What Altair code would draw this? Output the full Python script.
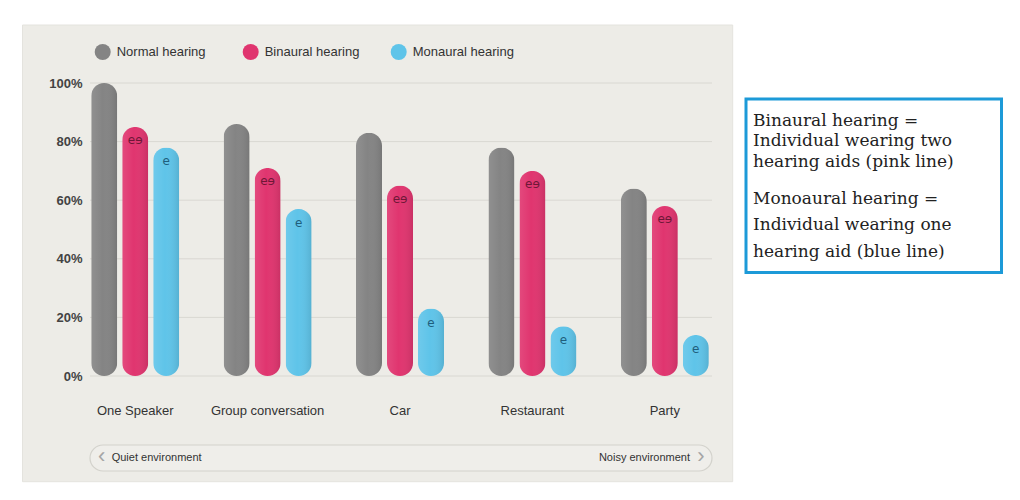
import altair as alt
import pandas as pd

categories = ["One Speaker", "Group conversation", "Car", "Restaurant", "Party"]
series = ["Normal hearing", "Binaural hearing", "Monaural hearing"]
normal = [100, 86, 83, 78, 64]
binaural = [85, 71, 65, 70, 58]
monaural = [78, 57, 23, 17, 14]
colors = ["#848484", "#e0356f", "#5fc4e9"]
icon_colors = ["#6e1737", "#1f5e7c"]
y_ticks = [0, 20, 40, 60, 80, 100]
note_lines = [
    "Binaural hearing =",
    "Individual wearing two",
    "hearing aids (pink line)",
    "Monoaural hearing =",
    "Individual wearing one",
    "hearing aid (blue line)",
]
note_y = [38, 58, 79, 116, 142, 169]

rows = []
for i, c in enumerate(categories):
    for s, vals in zip(series, [normal, binaural, monaural]):
        rows.append({"category": c, "series": s, "value": vals[i]})
df = pd.DataFrame(rows)

one = pd.DataFrame({"k": [0]})
ticks_df = pd.DataFrame({"value": y_ticks})

SANS = "Liberation Sans"
yscale = alt.Scale(domain=[0, 100], nice=False, zero=True)
yaxis = alt.Axis(
    title=None, values=y_ticks, labelExpr="datum.value + '%'", zindex=1,
    grid=False, ticks=False, domain=False, offset=-13, labelPadding=0,
    labelFontSize=13, labelFontWeight="bold", labelFont=SANS, labelColor="#434343",
)
yenc = alt.Y("value:Q", scale=yscale, axis=yaxis)

panel = alt.Chart(one).mark_rect(fill="#edece7", stroke="#e4e3de").encode(
    x=alt.value(-46.5), x2=alt.value(663.7), y=alt.value(-58), y2=alt.value(398.7)
)

grid = alt.Chart(ticks_df).mark_rule(color="#d9d8d2", strokeWidth=1).encode(
    y=yenc,
    x=alt.value(21),
    x2=alt.value(643),
)

xenc = alt.X(
    "category:N",
    sort=categories,
    scale=alt.Scale(paddingInner=0, paddingOuter=0),
    axis=alt.Axis(
        title=None, labelAngle=0, ticks=False, domain=False, zindex=1,
        labelPadding=28, labelFontSize=13, labelFont=SANS, labelColor="#333333",
    ),
)
xoff = alt.XOffset(
    "series:N", sort=series,
    scale=alt.Scale(paddingInner=0.161, paddingOuter=0.716),
)

bars = alt.Chart(df).mark_bar(cornerRadius=13).encode(
    x=xenc, xOffset=xoff, y=yenc,
    color=alt.Color(
        "series:N",
        scale=alt.Scale(domain=series, range=colors),
        legend=alt.Legend(
            title=None, orient="none", legendX=25.7, legendY=-39, direction="horizontal",
            columns=3, gridAlign="all", columnPadding=24, symbolType="circle",
            symbolSize=256, symbolStrokeWidth=0, labelFontSize=13, labelFont=SANS,
            labelColor="#333333", labelOffset=6, padding=0,
        ),
    ),
)

shade = alt.Chart(df).mark_bar(
    cornerRadius=13,
    color=alt.Gradient(
        gradient="linear", x1=0, x2=1, y1=0, y2=0,
        stops=[
            alt.GradientStop(offset=0, color="rgba(255,255,255,0.10)"),
            alt.GradientStop(offset=0.45, color="rgba(255,255,255,0.0)"),
            alt.GradientStop(offset=1, color="rgba(0,0,0,0.10)"),
        ],
    ),
).encode(x=xenc, xOffset=xoff, y=yenc)

icon_b = alt.Chart(df).transform_filter(
    "datum.series == 'Binaural hearing'"
).mark_text(
    text="eɘ", font="DejaVu Sans", fontSize=12, baseline="middle", dy=13, color=icon_colors[0]
).encode(x=xenc, xOffset=xoff, y=yenc)
icon_m = alt.Chart(df).transform_filter(
    "datum.series == 'Monaural hearing'"
).mark_text(
    text="e", font="DejaVu Sans", fontSize=12, baseline="middle", dy=14, color=icon_colors[1]
).encode(x=xenc, xOffset=xoff, y=yenc)

pill = alt.Chart(one).mark_rect(
    fill="#efeeea", stroke="#d3d2cc", strokeWidth=1.2, cornerRadius=13
).encode(x=alt.value(21), x2=alt.value(643), y=alt.value(362), y2=alt.value(388))

quiet = alt.Chart(one).mark_text(
    text="Quiet environment", align="left", baseline="middle", font=SANS,
    fontSize=11, color="#333333",
).encode(x=alt.value(42.7), y=alt.value(375))
noisy = alt.Chart(one).mark_text(
    text="Noisy environment", align="right", baseline="middle", font=SANS,
    fontSize=11, color="#333333",
).encode(x=alt.value(621), y=alt.value(375))
chev_l = alt.Chart(one).mark_text(
    text="‹", align="center", baseline="middle", font=SANS, fontSize=22, color="#a5a5a5",
).encode(x=alt.value(32.7), y=alt.value(373))
chev_r = alt.Chart(one).mark_text(
    text="›", align="center", baseline="middle", font=SANS, fontSize=22, color="#a5a5a5",
).encode(x=alt.value(632), y=alt.value(373))

box = alt.Chart(one).mark_rect(fill="white", stroke="#1c9ad8", strokeWidth=3).encode(
    x=alt.value(677), x2=alt.value(932.5), y=alt.value(16), y2=alt.value(189.5)
)
notes = [
    alt.Chart(one).mark_text(
        text=line, align="left", baseline="middle", font="DejaVu Serif",
        fontSize=17, color="#222222",
    ).encode(x=alt.value(684), y=alt.value(ly))
    for line, ly in zip(note_lines, note_y)
]

chart = alt.layer(
    panel, grid, bars, shade, icon_b, icon_m, pill, quiet, noisy, chev_l, chev_r, box, *notes
).properties(
    width=662, height=293,
    padding={"left": 61, "top": 75, "right": 280, "bottom": 114},
    autosize="none", background="white",
).configure_view(stroke=None)

chart.save("out.html", embed_options={"renderer": "svg", "actions": False})
